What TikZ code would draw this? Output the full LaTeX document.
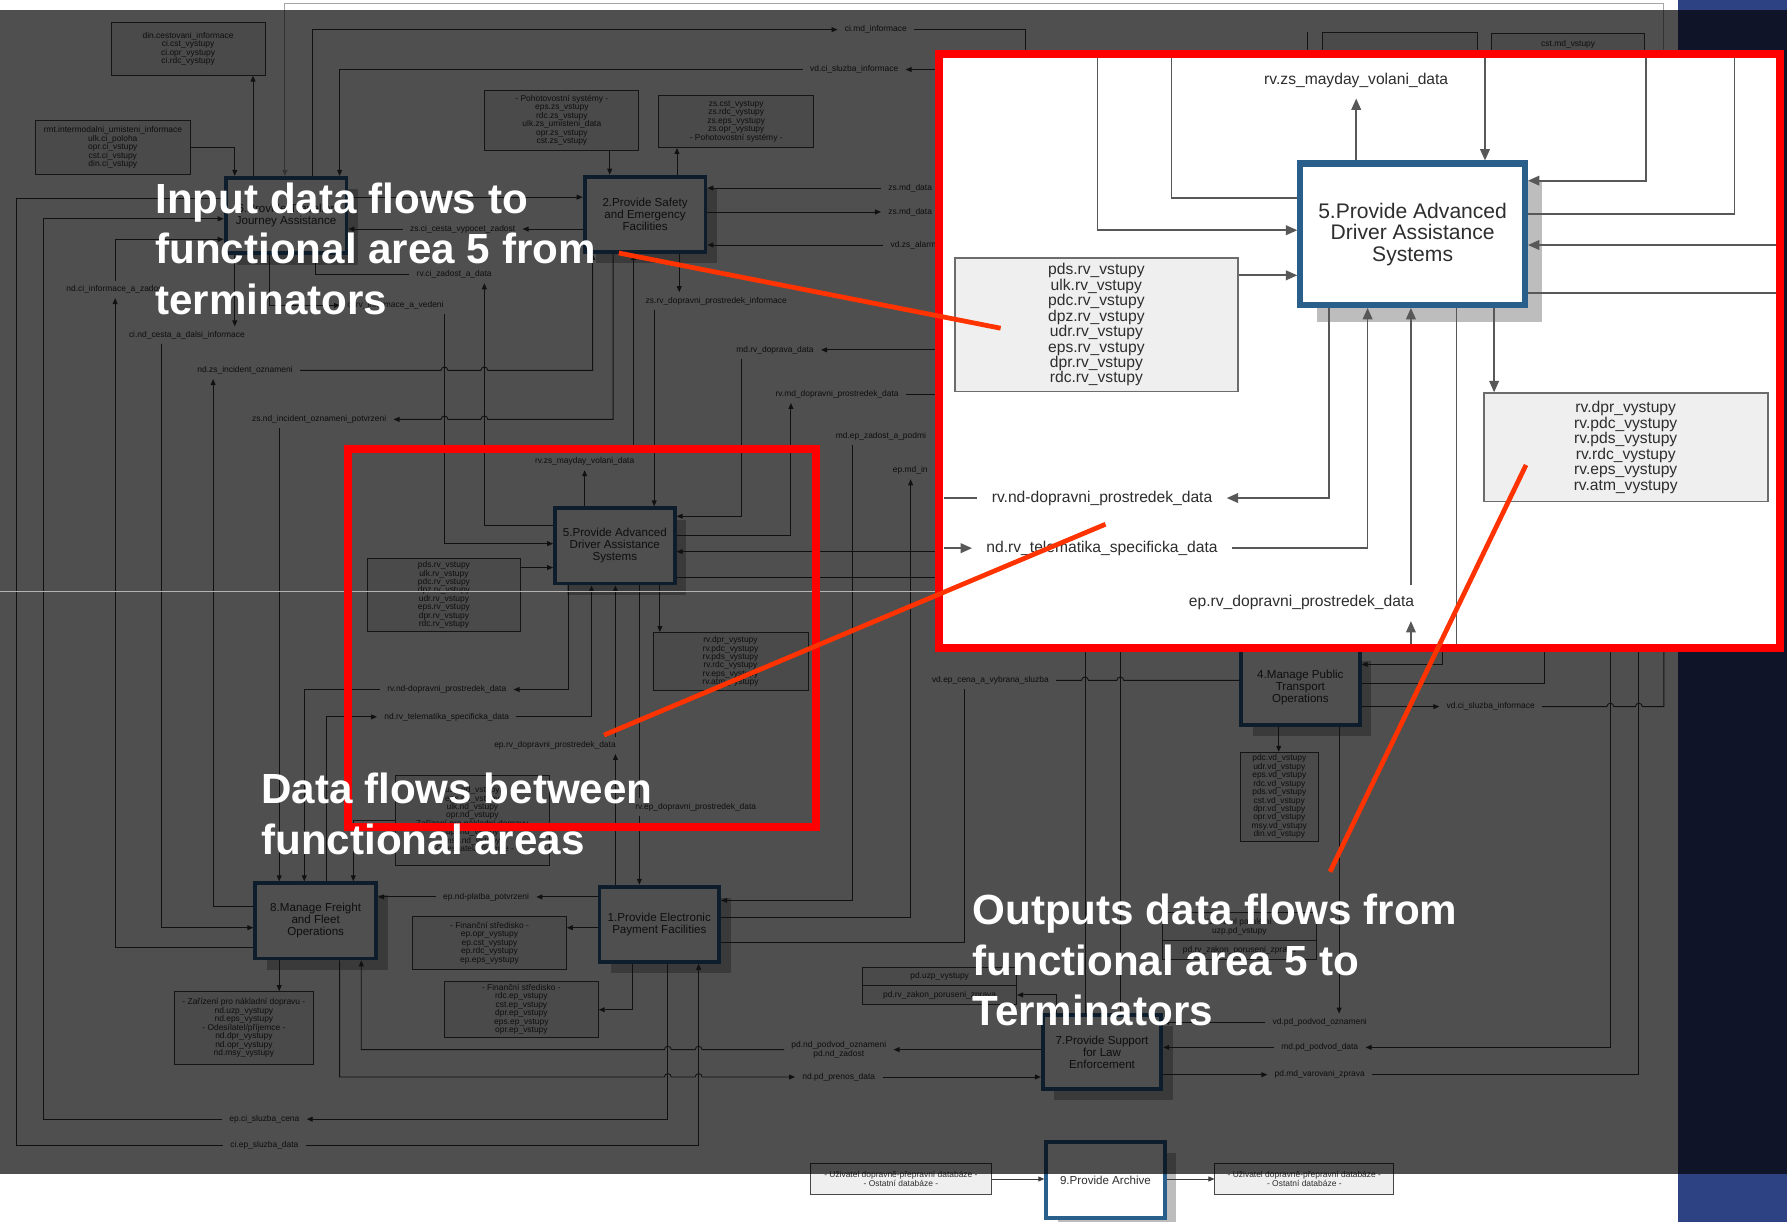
\documentclass[tikz,border=0pt]{standalone}
\usepackage{fontspec}
\setmainfont{Liberation Sans}
\usetikzlibrary{arrows.meta,shadows}

\newcommand\pxu{0.022793cm}
\definecolor{fbcol}{HTML}{2A5F8C}
\definecolor{shadowcol}{HTML}{BDBDBD}
\definecolor{termfill}{HTML}{EFEFEF}
\definecolor{termdraw}{HTML}{474747}
\definecolor{linecol}{HTML}{3A3A3A}
\definecolor{txtcol}{HTML}{2E2E2E}
\definecolor{framered}{HTML}{FF0000}
\definecolor{callred}{HTML}{FF3300}
\definecolor{slidenavy}{HTML}{0F1428}
\definecolor{slideblue}{HTML}{2C4283}
\definecolor{seamgray}{HTML}{B4B4B4}

\begin{document}
\begin{tikzpicture}[x=\pxu, y=-\pxu,
    flow/.style={draw=linecol, line width=0.5pt},
    arr/.style={-{Triangle[length=3.4pt,width=2.8pt]}},
    sz/.style 2 args={minimum width=#1*\pxu, minimum height=#2*\pxu},
    fbox/.style={draw=fbcol, line width=2.2pt, fill=white, inner sep=0pt, align=center,
        text=txtcol, font=\fontsize{6.6}{6.8}\selectfont,
        drop shadow={shadow xshift=0.23cm, shadow yshift=-0.23cm, fill=shadowcol, opacity=1}},
    tbox/.style={draw=termdraw, line width=0.5pt, fill=termfill, inner sep=0pt, align=center,
        text=txtcol, font=\fontsize{4.8}{4.8}\selectfont},
    lbl/.style={inner xsep=4pt, inner ysep=2.5pt, text=txtcol, font=\fontsize{4.8}{5}\selectfont},
    iflow/.style={draw=linecol!85, line width=1pt},
    iarr/.style={-{Triangle[length=6.5pt,width=5.5pt]}},
    ibox/.style={draw=fbcol, line width=3.5pt, fill=white, inner sep=0pt, align=center,
        text=txtcol, font=\fontsize{12}{12.3}\selectfont,
        drop shadow={shadow xshift=0.34cm, shadow yshift=-0.34cm, fill=shadowcol, opacity=1}},
    itbox/.style={draw=termdraw!80, line width=1pt, fill=termfill, inner sep=0pt, align=center,
        text=txtcol, font=\fontsize{8.9}{8.8}\selectfont},
    ilbl/.style={inner xsep=8pt, inner ysep=6pt, text=txtcol, font=\fontsize{8.9}{9}\selectfont},
    note/.style={text=white, align=left, inner sep=0pt, font=\fontsize{24}{28.8}\selectfont\bfseries},
    callout/.style={draw=callred, line width=2.7pt}]

\useasboundingbox (0,0) rectangle (1568,1072);
\fill[white] (0,0) rectangle (1568,1072);

% functional areas
\node[fbox, sz={106}{66}] (b6) at (251,189) {6.Provide Traveller\\Journey Assistance};
\node[fbox, sz={106}{66}] (b2) at (566,188) {2.Provide Safety\\and Emergency\\Facilities};
\node[fbox, sz={105}{66}] (b5) at (539.5,479) {5.Provide Advanced\\Driver Assistance\\Systems};
\node[fbox, sz={106}{66}] (b8) at (277,808) {8.Manage Freight\\and Fleet\\Operations};
\node[fbox, sz={105}{66}] (b1) at (578.5,811) {1.Provide Electronic\\Payment Facilities};
\node[fbox, sz={104}{66}] (b4) at (1141,603) {4.Manage Public\\Transport\\Operations};
\node[fbox, sz={104}{65}] (b7) at (967,923) {7.Provide Support\\for Law\\Enforcement};
\node[fbox, sz={104}{67}] (b9) at (970,1035.5) {9.Provide Archive};

% terminators
\node[tbox, sz={135}{46}] (t1) at (165,43) {din.cestovani\_informace\\ci.cst\_vystupy\\ci.opr\_vystupy\\ci.rdc\_vystupy};
\node[tbox, sz={136}{47}] (t2) at (99,129.5) {rmt.intermodalni\_umisteni\_informace\\ulk.ci\_poloha\\opr.ci\_vstupy\\cst.ci\_vstupy\\din.ci\_vstupy};
\node[tbox, sz={135}{53}] (t3) at (493,105.5) {- Pohotovostní systémy -\\eps.zs\_vstupy\\rdc.zs\_vstupy\\ulk.zs\_umisteni\_data\\opr.zs\_vstupy\\cst.zs\_vstupy};
\node[tbox, sz={136}{46}] (t4) at (646,106.5) {zs.cst\_vystupy\\zs.rdc\_vystupy\\zs.eps\_vystupy\\zs.opr\_vystupy\\- Pohotovostní systémy -};
\node[tbox, sz={135}{64}] (t5) at (389.5,522) {pds.rv\_vstupy\\ulk.rv\_vstupy\\pdc.rv\_vstupy\\dpz.rv\_vstupy\\udr.rv\_vstupy\\eps.rv\_vstupy\\dpr.rv\_vstupy\\rdc.rv\_vstupy};
\node[tbox, sz={136}{51}] (t6) at (641,580.5) {rv.dpr\_vystupy\\rv.pdc\_vystupy\\rv.pds\_vystupy\\rv.rdc\_vystupy\\rv.eps\_vystupy\\rv.atm\_vystupy};
\node[tbox, sz={135}{79}] (t7) at (414.5,719.5) {uzp.nd\_vstupy\\eps.nd\_vstupy\\ulk.nd\_vstupy\\opr.nd\_vstupy\\- Zařízení pro nákladní dopravu -\\dpr.nd\_vstupy\\msy.nd\_vstupy\\- Odesílatel/příjemce -};
\node[tbox, sz={122}{64}] (t8) at (214,902) {- Zařízení pro nákladní dopravu -\\nd.uzp\_vystupy\\nd.eps\_vystupy\\- Odesílatel/příjemce -\\nd.dpr\_vystupy\\nd.opr\_vystupy\\nd.msy\_vystupy};
\node[tbox, sz={135}{47}] (t9) at (429.5,827.5) {- Finanční středisko -\\ep.opr\_vystupy\\ep.cst\_vystupy\\ep.rdc\_vystupy\\ep.eps\_vystupy};
\node[tbox, sz={135}{49}] (t10) at (457.5,885.5) {- Finanční středisko -\\rdc.ep\_vstupy\\cst.ep\_vstupy\\dpr.ep\_vstupy\\eps.ep\_vstupy\\opr.ep\_vstupy};
\node[tbox, sz={69}{78}] (t11) at (1122.5,699) {pdc.vd\_vstupy\\udr.vd\_vstupy\\eps.vd\_vstupy\\rdc.vd\_vstupy\\pds.vd\_vstupy\\cst.vd\_vstupy\\dpr.vd\_vstupy\\opr.vd\_vstupy\\msy.vd\_vstupy\\din.vd\_vstupy};
\node[tbox, sz={135}{16}] (p1) at (824.5,857) {pd.uzp\_vystupy};
\node[tbox, sz={135}{16}] (p2) at (824.5,873) {pd.rv\_zakon\_poruseni\_zprava};
\node[tbox, sz={135}{24}] (q1) at (1087.5,813) {- Uživatel paralelní -\\uzp.pd\_vstupy};
\node[tbox, sz={135}{17}] (q2) at (1087.5,833.5) {pd.rv\_zakon\_poruseni\_zprava};
\node[tbox, sz={159}{27}] (t12) at (790.5,1034.5) {- Uživatel dopravně-přepravní databáze -\\- Ostatní databáze -};
\node[tbox, sz={157}{27}] (t13) at (1144.5,1034.5) {- Uživatel dopravně-přepravní databáze -\\- Ostatní databáze -};
\node[tbox, sz={136}{40}, anchor=north] (r1) at (1228,28) {};
\node[tbox, sz={134}{40}, anchor=north] (r2) at (1376,29) {};
\node[lbl] (r2t) at (1376,39) {cst.md\_vstupy};

% flows round area 6
\draw[flow, draw=gray!70, arr] (1460,47) -- (1460,3) -- (250,3) -- (250,0 |- b6.north);
\draw[flow, arr] (222,0 |- b6.north) -- (222,0 |- t1.south);
\draw[flow, arr] (t2.east |- 0,129) -- (206,129) -- (206,0 |- b6.north);
\node[lbl] (l_cimd) at (768.5,26) {ci.md\_informace};
\draw[flow, arr] (274,0 |- b6.north) -- (274,26) -- (l_cimd.west);
\draw[flow] (l_cimd.east) -- (900,26) -- (900,47);
\draw[flow] (1147,28) -- (1147,47);
\node[lbl] (l_vdci) at (749.5,61) {vd.ci\_sluzba\_informace};
\draw[flow, arr] (824,61) -- (l_vdci.east);
\draw[flow, arr] (l_vdci.west) -- (298,61) -- (298,0 |- b6.north);
\draw[flow, arr] (b6.east |- 0,173) -- (b2.west |- 0,173);
\node[lbl] (l_zsci) at (406,201) {zs.ci\_cesta\_vypocet\_zadost};
\draw[flow, arr] (b2.west |- 0,201) -- (l_zsci.east);
\draw[flow, arr] (l_zsci.west) -- (b6.east |- 0,201);
\node[lbl] (l_rvci) at (398.5,241) {rv.ci\_zadost\_a\_data};
\draw[flow, arr] (b5.west |- 0,461) -- (425,461) -- (425,0 |- l_rvci.south);
\draw[flow] (l_rvci.west) -- (277,241) -- (277,0 |- b6.south);
\node[lbl] (l_cirv) at (347,268) {ci.rv\_informace\_a\_vedeni};
\draw[flow, arr] (236,0 |- b6.south) -- (236,268) -- (l_cirv.west);
\draw[flow, arr] (390,0 |- l_cirv.south) -- (390,477) -- (b5.west |- 0,477);
\node[lbl] (l_cind) at (164,294) {ci.nd\_cesta\_a\_dalsi\_informace};
\draw[flow, arr] (206,0 |- b6.south) -- (206,0 |- l_cind.north);
\draw[flow, arr] (142,0 |- l_cind.south) -- (142,814) -- (b8.west |- 0,814);
\node[lbl] (l_ndci) at (101.5,254) {nd.ci\_informace\_a\_zadost};
\draw[flow, arr] (b8.west |- 0,831) -- (101,831) -- (101,0 |- l_ndci.south);
\draw[flow, arr] (101,0 |- l_ndci.north) -- (101,210) -- (b6.west |- 0,210);
\node[lbl] (l_epci) at (232,982) {ep.ci\_sluzba\_cena};
\draw[flow, arr] (586,0 |- b1.south) -- (586,982) -- (l_epci.east);
\draw[flow, arr] (l_epci.west) -- (38,982) -- (38,192) -- (b6.west |- 0,192);
\node[lbl] (l_ciep) at (232,1005) {ci.ep\_sluzba\_data};
\draw[flow] (b6.west |- 0,174) -- (14,174) -- (14,1005) -- (l_ciep.west);
\draw[flow, arr] (l_ciep.east) -- (613,1005) -- (613,0 |- b1.south);

% flows round area 2
\draw[flow, arr] (535,0 |- t3.south) -- (535,0 |- b2.north);
\draw[flow, arr] (594,0 |- b2.north) -- (594,0 |- t4.south);
\node[lbl, anchor=west] (l_zsmd1) at (773,165) {zs.md\_data};
\node[lbl, anchor=west] (l_zsmd2) at (773,186) {zs.md\_data};
\node[lbl, anchor=west] (l_vdzs) at (775,215) {vd.zs\_alarm};
\draw[flow, arr] (l_zsmd1.west) -- (b2.east |- l_zsmd1.west);
\draw[flow, arr] (b2.east |- l_zsmd2.west) -- (l_zsmd2.west);
\draw[flow, arr] (l_vdzs.west) -- (b2.east |- l_vdzs.west);
\node[lbl] (l_ndzs) at (215,325) {nd.zs\_incident\_oznameni};
\draw[flow, arr] (b8.west |- 0,795) -- (187,795) -- (187,0 |- l_ndzs.south);
\draw[flow, arr] (l_ndzs.east) -- (387,325) arc[start angle=180, end angle=360, radius=3]
    -- (422,325) arc[start angle=180, end angle=360, radius=3] -- (520,325) -- (520,0 |- b2.south);
\node[lbl] (l_zsnd) at (280,368) {zs.nd\_incident\_oznameni\_potvrzeni};
\draw[flow, arr] (538,0 |- b2.south) -- (538,368) -- (428,368) arc[start angle=0, end angle=-180, radius=3]
    -- (393,368) arc[start angle=0, end angle=-180, radius=3] -- (l_zsnd.east);
\draw[flow, arr] (245,0 |- l_zsnd.south) -- (245,0 |- b8.north);
\node[lbl] (l_mayday) at (513,405) {rv.zs\_mayday\_volani\_data};
\draw[flow, arr] (513,0 |- b5.north) -- (513,0 |- l_mayday.south);
\draw[flow, arr] (556,0 |- l_mayday.north) -- (556,0 |- b2.south);
\node[lbl] (l_zsrv) at (628.5,264) {zs.rv\_dopravni\_prostredek\_informace};
\draw[flow, arr] (596,0 |- b2.south) -- (596,0 |- l_zsrv.north);
\draw[flow, arr] (574,0 |- l_zsrv.south) -- (574,0 |- b5.north);

% flows round area 5
\node[lbl] (l_mdrv) at (680,307) {md.rv\_doprava\_data};
\draw[flow, arr] (824,307) -- (l_mdrv.east);
\draw[flow, arr] (651,0 |- l_mdrv.south) -- (651,453) -- (b5.east |- 0,453);
\node[lbl] (l_rvmd) at (734.5,346) {rv.md\_dopravni\_prostredek\_data};
\draw[flow, arr] (b5.east |- 0,470) -- (694,470) -- (694,0 |- l_rvmd.south);
\draw[flow] (l_rvmd.east) -- (824,346);
\draw[flow, arr] (824,484) -- (b5.east |- 0,484);
\draw[flow] (b5.east |- 0,507) -- (824,507);
\draw[flow, arr] (t5.east |- 0,498) -- (b5.west |- 0,498);
\node[lbl] (l_rvnd) at (392,605) {rv.nd-dopravni\_prostredek\_data};
\draw[flow, arr] (499,0 |- b5.south) -- (499,605) -- (l_rvnd.east);
\draw[flow, arr] (l_rvnd.west) -- (267,605) -- (267,0 |- b8.north);
\node[lbl] (l_ndrv) at (392,629) {nd.rv\_telematika\_specificka\_data};
\draw[flow, arr] (286,0 |- b8.north) -- (286,629) -- (l_ndrv.west);
\draw[flow, arr] (l_ndrv.east) -- (519,629) -- (519,0 |- b5.south);
\node[lbl] (l_eprv) at (487,654) {ep.rv\_dopravni\_prostredek\_data};
\draw[flow, arr] (540,0 |- b1.north) -- (540,0 |- l_eprv.south);
\draw[flow, arr] (540,0 |- l_eprv.north) -- (540,0 |- b5.south);
\node[lbl] (l_rvep) at (610.5,708) {rv.ep\_dopravni\_prostredek\_data};
\draw[flow] (561,0 |- b5.south) -- (561,0 |- l_rvep.north);
\draw[flow, arr] (561,0 |- l_rvep.south) -- (561,0 |- b1.north);
\draw[flow, arr] (579,0 |- b5.south) -- (579,0 |- t6.north);

% flows round areas 1 and 8
\draw[flow, arr] (t7.west |- 0,720) -- (310,720) -- (310,0 |- b8.north);
\node[lbl, anchor=west] (l_mdep) at (727,383) {md.ep\_zadost\_a\_podmi};
\draw[flow, arr] (748,0 |- l_mdep.south) -- (748,790) -- (b1.east |- 0,790);
\node[lbl, anchor=west] (l_epmd) at (777,413) {ep.md\_in};
\draw[flow, arr] (b1.east |- 0,805) -- (799,805) -- (799,0 |- l_epmd.south);
\node[lbl] (l_vdep) at (869,597) {vd.ep\_cena\_a\_vybrana\_sluzba};
\draw[flow] (b4.west |- 0,597) -- (986,597) arc[start angle=0, end angle=-180, radius=3]
    -- (955,597) arc[start angle=0, end angle=-180, radius=3] -- (l_vdep.east);
\draw[flow] (846,0 |- l_vdep.south) -- (846,827) -- (b1.east |- 0,827);
\node[lbl] (l_epnd) at (426.5,787) {ep.nd-platba\_potvrzeni};
\draw[flow, arr] (b1.west |- 0,787) -- (l_epnd.east);
\draw[flow, arr] (l_epnd.west) -- (b8.east |- 0,787);
\draw[flow, arr] (b1.west |- 0,814) -- (t9.east |- 0,814);
\draw[flow, arr] (555,0 |- b1.south) -- (555,886) -- (t10.east |- 0,886);
\draw[flow, arr] (245,0 |- b8.south) -- (245,0 |- t8.north);
\node[lbl] (l_ndpd) at (736,945) {nd.pd\_prenos\_data};
\draw[flow, arr] (298,0 |- b8.south) -- (298,945) -- (583,945) arc[start angle=180, end angle=360, radius=3]
    -- (610,945) arc[start angle=180, end angle=360, radius=3] -- (l_ndpd.west);
\draw[flow, arr] (l_ndpd.east) -- (b7.west |- 0,945);
\node[lbl, align=center] (l_pdnd) at (736,921) {pd.nd\_podvod\_oznameni\\pd.nd\_zadost};
\draw[flow, arr] (b7.west |- 0,921) -- (l_pdnd.east);
\draw[flow, arr] (l_pdnd.west) -- (616,921) arc[start angle=0, end angle=-180, radius=3]
    -- (589,921) arc[start angle=0, end angle=-180, radius=3] -- (317,921) -- (317,0 |- b8.south);

% flows round areas 4 and 7
\draw[flow] (952,572) -- (952,0 |- b7.north);
\draw[flow] (983,572) -- (983,0 |- b7.north);
\draw[flow, arr] (927,0 |- b7.north) -- (927,873) -- (p2.east |- 0,873);
\draw[flow, arr] (1266,572) -- (1266,583) -- (b4.east |- 0,583);
\draw[flow] (b4.east |- 0,600) -- (1355,600) -- (1355,572);
\node[lbl] (l_vdci2) at (1308,620) {vd.ci\_sluzba\_informace};
\draw[flow, arr] (b4.east |- 0,620) -- (l_vdci2.west);
\draw[flow] (l_vdci2.east) -- (1410,620) arc[start angle=180, end angle=360, radius=3]
    -- (1435,620) arc[start angle=180, end angle=360, radius=3] -- (1460,620) -- (1460,572);
\draw[flow, arr] (1122,0 |- b4.south) -- (1122,0 |- t11.north);
\node[lbl] (l_vdpd) at (1158,897) {vd.pd\_podvod\_oznameni};
\draw[flow, arr] (1175,0 |- b4.south) -- (1175,0 |- l_vdpd.north);
\draw[flow, arr] (l_vdpd.west) -- (b7.east |- l_vdpd.west);
\node[lbl] (l_mdpd) at (1158,919) {md.pd\_podvod\_data};
\draw[flow, arr] (1413,572) -- (1413,919) -- (l_mdpd.east);
\draw[flow, arr] (l_mdpd.west) -- (b7.east |- 0,919);
\node[lbl] (l_pdmd) at (1158,943) {pd.md\_varovani\_zprava};
\draw[flow, arr] (b7.east |- 0,943) -- (l_pdmd.west);
\draw[flow] (l_pdmd.east) -- (1438,943) -- (1438,572);

% archive
\draw[flow, arr] (t12.east) -- (b9.west |- t12.east);
\draw[flow, arr] (b9.east |- t13.west) -- (t13.west);

% dark veil and slide frame
\fill[black, opacity=0.69] (0,9) rectangle (1472,1030);
\fill[slidenavy] (1472,9) rectangle (1568,1030);
\fill[slideblue] (1472,0) rectangle (1568,9);
\fill[slideblue] (1472,1030) rectangle (1568,1072);
\draw[seamgray, line width=0.5pt] (0,519) -- (824,519);

% magnified view of area 5
\fill[white] (824,47.5) rectangle (1562,568.5);
\node[ibox, sz={197}{124}] (i5) at (1239.5,205.5) {5.Provide Advanced\\Driver Assistance\\Systems};
\node[itbox, sz={248}{117}] (it5) at (962,285) {pds.rv\_vstupy\\ulk.rv\_vstupy\\pdc.rv\_vstupy\\dpz.rv\_vstupy\\udr.rv\_vstupy\\eps.rv\_vstupy\\dpr.rv\_vstupy\\rdc.rv\_vstupy};
\node[itbox, sz={249}{95}] (it6) at (1426.5,392.5) {rv.dpr\_vystupy\\rv.pdc\_vystupy\\rv.pds\_vystupy\\rv.rdc\_vystupy\\rv.eps\_vystupy\\rv.atm\_vystupy};
\draw[iflow, iarr] (963,51) -- (963,202) -- (i5.west |- 0,202);
\draw[iflow] (1028,51) -- (1028,174) -- (i5.west |- 0,174);
\draw[iflow, iarr] (1303,51) -- (1303,0 |- i5.north);
\draw[iflow, iarr] (1444,51) -- (1444,158.5) -- (i5.east |- 0,158.5);
\draw[iflow] (1522,51) -- (1522,188) -- (i5.east |- 0,188);
\draw[iflow, iarr] (1559,215) -- (i5.east |- 0,215);
\draw[iflow] (i5.east |- 0,257) -- (1559,257);
\node[ilbl] (il_mayday) at (1190,70.5) {rv.zs\_mayday\_volani\_data};
\draw[iflow, iarr] (1190,0 |- i5.north) -- (1190,0 |- il_mayday.south);
\draw[iflow, iarr] (it5.east |- 0,241.6) -- (i5.west |- 0,241.6);
\node[ilbl] (il_rvnd) at (967,437) {rv.nd-dopravni\_prostredek\_data};
\draw[iflow, iarr] (1166,0 |- i5.south) -- (1166,437) -- (il_rvnd.east);
\draw[iflow] (il_rvnd.west) -- (828,437);
\node[ilbl] (il_ndrv) at (967,481) {nd.rv\_telematika\_specificka\_data};
\draw[iflow, iarr] (828,481) -- (il_ndrv.west);
\draw[iflow, iarr] (il_ndrv.east) -- (1200,481) -- (1200,0 |- i5.south);
\node[ilbl] (il_eprv) at (1142,529) {ep.rv\_dopravni\_prostredek\_data};
\draw[iflow, iarr] (1238,0 |- il_eprv.north) -- (1238,0 |- i5.south);
\draw[iflow, iarr] (1238,565) -- (1238,0 |- il_eprv.south);
\draw[iflow] (1278,0 |- i5.south) -- (1278,565);
\draw[iflow, iarr] (1311,0 |- i5.south) -- (1311,0 |- it6.north);
\draw[framered, line width=4.5pt] (824,47.5) rectangle (1562,568.5);

% highlighted area 5 in the full diagram
\draw[framered, line width=4.5pt] (305,394) rectangle (716,725.5);

% pointers
\draw[callout] (543,222) -- (878,288);
\draw[callout] (530,645) -- (970,460);
\draw[callout] (1167,765) -- (1339,408);

% captions (anchored on the last line)
\node[note, anchor=base west] (n_in) at (136,276) {Input data flows to\\functional area 5 from\\terminators};
\node[note, anchor=base west] (n_between) at (229,749.5) {Data flows between\\functional areas};
\node[note, anchor=base west] (n_out) at (853,900) {Outputs data flows from\\functional area 5 to\\Terminators};
\end{tikzpicture}
\end{document}
